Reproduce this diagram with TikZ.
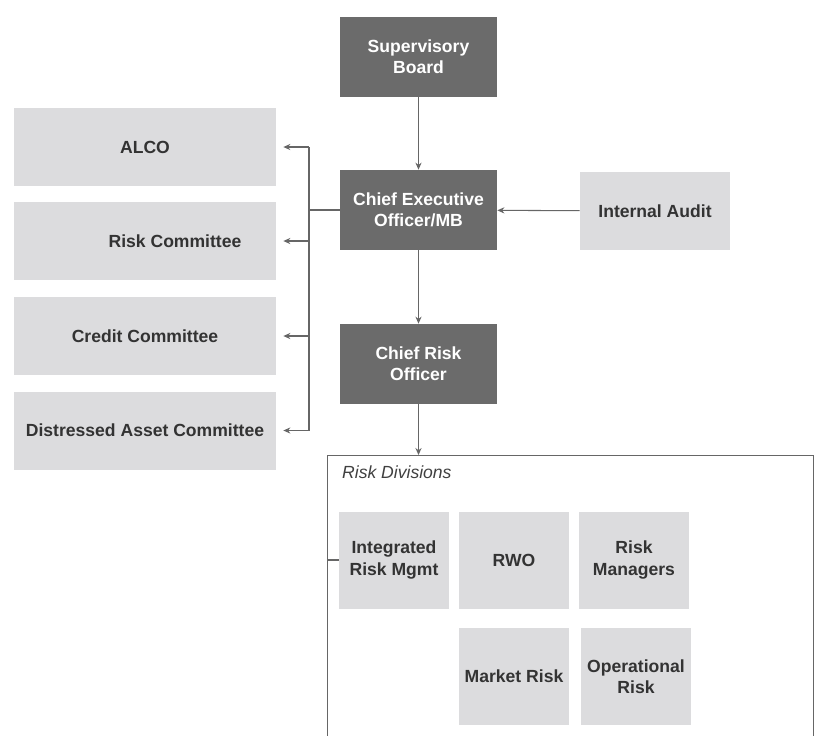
\documentclass[tikz,border=0pt]{standalone}
\usepackage{fontspec}
\setmainfont{Liberation Sans}
\usetikzlibrary{arrows.meta}
\definecolor{darkbox}{HTML}{6B6B6B}
\definecolor{lightbox}{HTML}{DCDCDE}
\definecolor{linegray}{HTML}{666666}
\begin{document}
\begin{tikzpicture}
        [x=0.02cm, y=-0.02cm,
        exec/.style={rectangle, fill=darkbox, text=white, minimum width=3.14cm, minimum height=1.6cm, align=center, font=\bfseries\fontsize{10}{12}\selectfont},
        comm/.style={rectangle, fill=lightbox, text=black!80, minimum width=5.24cm, minimum height=1.56cm, align=center, font=\bfseries\fontsize{10}{12}\selectfont},
        unit/.style={rectangle, fill=lightbox, text=black!80, minimum width=2.2cm, minimum height=1.94cm, align=center, font=\bfseries\fontsize{10}{12}\selectfont},
        conn/.style={linegray, line width=0.6pt, -{Stealth[length=4pt, width=3.5pt]}},
        link/.style={linegray, line width=0.6pt}]

        \useasboundingbox (0,0) rectangle (814,735);

        % management chain
        \node[exec] (sb) at (418.5,57) {Supervisory\\Board};
        \node[exec] (ceo) at (418.5,210) {Chief Executive\\Officer/MB};
        \node[exec] (cro) at (418.5,364) {Chief Risk\\Officer};
        \node[comm, minimum width=3cm] (audit) at (655,211) {Internal Audit};

        % committees
        \node[comm] (alco) at (145,147) {ALCO};
        \node[comm] (riskc) at (145,241) {\hspace*{1.2cm}Risk Committee};
        \node[comm] (credit) at (145,336) {Credit Committee};
        \node[comm] (dac) at (145,430.5) {Distressed Asset Committee};

        % risk divisions frame
        \node[draw=linegray, line width=0.6pt, rectangle, minimum width=9.72cm, minimum height=6cm, anchor=north west, inner sep=0pt] (divs) at (327,455) {};
        \node[anchor=west, font=\itshape\fontsize{10}{12}\selectfont, text=black!75] (divlabel) at (336,472) {Risk Divisions};

        \node[unit] (irm) at (394,560) {Integrated\\Risk Mgmt};
        \node[unit] (rwo) at (514,560) {RWO};
        \node[unit] (rm) at (634,560) {Risk\\Managers};
        \node[unit] (mr) at (514,676.5) {Market Risk};
        \node[unit] (opr) at (636,676.5) {Operational\\Risk};

        % reporting line
        \draw[conn] (sb) -- (ceo);
        \draw[conn] (ceo) -- (cro);
        \draw[conn] (cro) -- (divs.north -| cro);
        \draw[conn] (audit) -- (ceo);
        \draw[link] (divs.west |- irm) -- (irm.west);

        % committee bus
        \coordinate (bus) at (309,210);
        \draw[link] (ceo.west) -- (bus);
        \draw[link] (bus |- alco) -- (bus |- dac);
        \draw[conn] (bus |- alco) -- ([xshift=4pt]alco.east);
        \draw[conn] (bus |- riskc) -- ([xshift=4pt]riskc.east);
        \draw[conn] (bus |- credit) -- ([xshift=4pt]credit.east);
        \draw[conn] (bus |- dac) -- ([xshift=4pt]dac.east);

    \end{tikzpicture}
\end{document}
